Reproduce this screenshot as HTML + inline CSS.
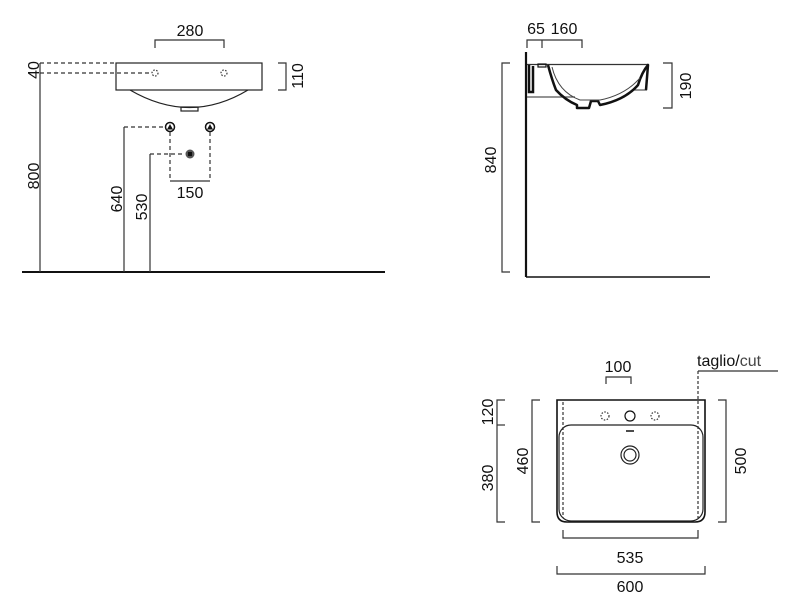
<!DOCTYPE html>
<html><head><meta charset="utf-8"><style>
html,body{margin:0;padding:0;background:#fff;}
svg{display:block;}
text{font-family:"Liberation Sans",sans-serif;font-size:16px;fill:#111;}
</style></head><body>
<svg width="800" height="615" viewBox="0 0 800 615" xmlns="http://www.w3.org/2000/svg">
<g fill="none" stroke="#333" stroke-width="1.2">
<!-- FRONT VIEW -->
<line x1="22" y1="272" x2="385" y2="272" stroke="#111" stroke-width="2"/>
<line x1="40" y1="63" x2="40" y2="272"/>
<line x1="40" y1="63" x2="116" y2="63" stroke-dasharray="4,3"/>
<line x1="40" y1="73" x2="151" y2="73" stroke-dasharray="4,3"/>
<rect x="116" y="63" width="146" height="27" stroke="#222"/>
<path d="M130 90 Q190 125 248 90" stroke="#222"/>
<rect x="181" y="107" width="17" height="4" stroke="#222"/>
<circle cx="155" cy="73" r="3" stroke-dasharray="1.5,1.5"/>
<circle cx="224" cy="73" r="3" stroke-dasharray="1.5,1.5"/>
<polyline points="155,48 155,40 224,40 224,48"/>
<polyline points="278,63 286,63 286,90 278,90"/>
<line x1="124" y1="127" x2="165" y2="127" stroke-dasharray="4,3"/>
<line x1="124" y1="127" x2="124" y2="272"/>
<line x1="150" y1="154" x2="185" y2="154" stroke-dasharray="4,3"/>
<line x1="150" y1="154" x2="150" y2="272"/>
<line x1="170" y1="132" x2="170" y2="181" stroke-dasharray="4,3"/>
<line x1="210" y1="132" x2="210" y2="181" stroke-dasharray="4,3"/>
<line x1="170" y1="181" x2="210" y2="181"/>
<!-- SIDE VIEW -->
<line x1="526" y1="52" x2="526" y2="277" stroke="#111" stroke-width="2.2"/>
<line x1="526" y1="277" x2="710" y2="277" stroke="#111" stroke-width="1.6"/>
<polyline points="510,63 502,63 502,272 510,272"/>
<polyline points="527,48 527,40 582,40 582,48"/>
<line x1="542" y1="40" x2="542" y2="48"/>
<polyline points="663,63 672,63 672,108 663,108"/>
<line x1="527" y1="64.5" x2="648" y2="64.5" stroke="#333"/>
<line x1="527" y1="97" x2="575" y2="97" stroke="#555"/>
<line x1="633" y1="90" x2="647" y2="90" stroke="#555"/>
<path d="M529 65 L529 92 L533 92 L533 66" stroke="#111" stroke-width="2.5"/>
<rect x="538" y="64" width="8" height="3" stroke="#111"/>
<path d="M548 65 Q552 80 556 90 Q565 100 577 105 L577 108 L589 108 L591 101 L598 101 L600 105 Q625 100 638 85 Q642 72 648 65 L646 90" stroke="#111" stroke-width="2.5" stroke-linejoin="round"/>
<path d="M552 67 Q558 92 580 100 L600 100 Q625 95 640 78" stroke="#444" stroke-width="1"/>
<!-- PLAN VIEW -->
<path d="M557 400 L705 400 L705 512 Q705 522 695 522 L567 522 Q557 522 557 512 Z" stroke="#111" stroke-width="1.6"/>
<rect x="559" y="425" width="144" height="96" rx="12" stroke="#222"/>
<line x1="563" y1="402" x2="563" y2="518" stroke-dasharray="3,2"/>
<line x1="698" y1="371" x2="698" y2="518" stroke-dasharray="3,2"/>
<line x1="698" y1="371" x2="778" y2="371"/>
<circle cx="605" cy="416" r="4" stroke-dasharray="1.5,1.5"/>
<circle cx="655" cy="416" r="4" stroke-dasharray="1.5,1.5"/>
<circle cx="630" cy="416" r="5" stroke="#111"/>
<line x1="626" y1="431" x2="634" y2="431" stroke="#111" stroke-width="1.5"/>
<circle cx="630" cy="455" r="9" stroke="#222"/>
<circle cx="630" cy="455" r="6" stroke="#222"/>
<polyline points="606,384 606,377 631,377 631,384"/>
<polyline points="505,400 497,400 497,522 505,522"/>
<line x1="497" y1="425" x2="505" y2="425"/>
<polyline points="540,400 532,400 532,522 540,522"/>
<polyline points="718,400 726,400 726,522 718,522"/>
<polyline points="563,530 563,538 698,538 698,530"/>
<polyline points="557,566 557,574 705,574 705,566"/>
</g>
<g fill="#111">
<circle cx="170" cy="127" r="4.5" fill="#fff" stroke="#111" stroke-width="1.5"/>
<path d="M167 129.5 L170 124 L173 129.5 Z"/>
<circle cx="210" cy="127" r="4.5" fill="#fff" stroke="#111" stroke-width="1.5"/>
<path d="M207 129.5 L210 124 L213 129.5 Z"/>
<circle cx="190" cy="154" r="4.5" fill="#555"/>
<rect x="188" y="152" width="4" height="4" fill="#111"/>
</g>
<text x="190" y="36" text-anchor="middle">280</text>
<text x="190" y="198" text-anchor="middle">150</text>
<text transform="translate(39,70) rotate(-90)" text-anchor="middle">40</text>
<text transform="translate(39,176) rotate(-90)" text-anchor="middle">800</text>
<text transform="translate(303,76) rotate(-90)" text-anchor="middle">110</text>
<text transform="translate(122,199) rotate(-90)" text-anchor="middle">640</text>
<text transform="translate(147,207) rotate(-90)" text-anchor="middle">530</text>
<text x="536" y="34" text-anchor="middle">65</text>
<text x="564" y="34" text-anchor="middle">160</text>
<text transform="translate(496,160) rotate(-90)" text-anchor="middle">840</text>
<text transform="translate(691,86) rotate(-90)" text-anchor="middle">190</text>
<text x="618" y="372" text-anchor="middle">100</text>
<text x="697" y="366">taglio/<tspan fill="#444">cut</tspan></text>
<text transform="translate(493,412) rotate(-90)" text-anchor="middle">120</text>
<text transform="translate(493,478) rotate(-90)" text-anchor="middle">380</text>
<text transform="translate(528,461) rotate(-90)" text-anchor="middle">460</text>
<text transform="translate(746,461) rotate(-90)" text-anchor="middle">500</text>
<text x="630" y="563" text-anchor="middle">535</text>
<text x="630" y="592" text-anchor="middle">600</text>
</svg>
</body></html>
